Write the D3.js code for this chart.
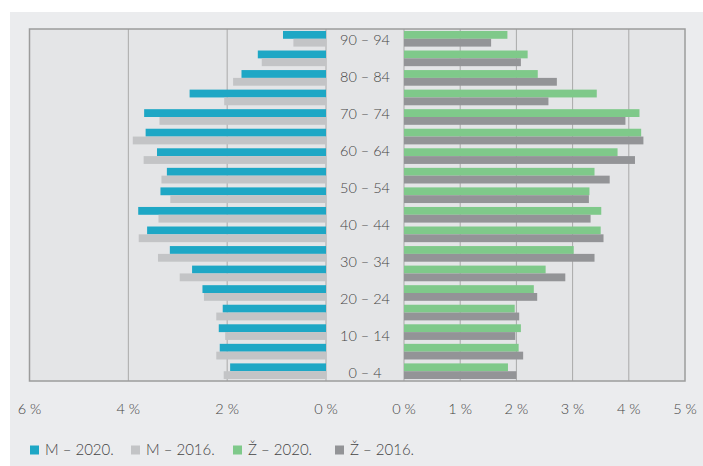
<!DOCTYPE html>
<html>
<head>
<meta charset="utf-8">
<script src="https://cdn.jsdelivr.net/npm/d3@7"></script>
<style>
  html, body { margin: 0; padding: 0; background: #fff; }
  svg text { font-family: Lato, "Open Sans", sans-serif; font-weight: 300; fill: #444; }
</style>
</head>
<body>
<div id="chart"></div>
<script>
// age groups, bottom (youngest) to top
var groups = ["g0", "g1", "g2", "g3", "g4", "g5", "g6", "g7", "g8",
              "g9", "g10", "g11", "g12", "g13", "g14", "g15", "g16", "g17"];
var ageLabels = ["0 – 4", "10 – 14", "20 – 24", "30 – 34", "40 – 44",
                 "50 – 54", "60 – 64", "70 – 74", "80 – 84", "90 – 94"];

// shares of population, %
var men2020 = [1.94, 2.15, 2.17, 2.09, 2.50, 2.71, 3.16, 3.62, 3.80,
               3.35, 3.22, 3.42, 3.65, 3.68, 2.76, 1.71, 1.38, 0.87];
var men2016 = [2.07, 2.22, 2.04, 2.22, 2.47, 2.96, 3.40, 3.79, 3.39,
               3.15, 3.33, 3.69, 3.91, 3.37, 2.06, 1.88, 1.30, 0.66];
var women2020 = [1.85, 2.04, 2.08, 1.97, 2.31, 2.52, 3.02, 3.50, 3.51,
                 3.30, 3.39, 3.80, 4.22, 4.19, 3.43, 2.38, 2.20, 1.84];
var women2016 = [2.00, 2.12, 1.98, 2.05, 2.37, 2.87, 3.39, 3.55, 3.32,
                 3.29, 3.66, 4.11, 4.26, 3.94, 2.57, 2.72, 2.08, 1.55];

var leftTicks = [6, 4, 2, 0];
var rightTicks = [0, 1, 2, 3, 4, 5];

var legendNames = ["M – 2020.", "M – 2016.", "Ž – 2020.", "Ž – 2016."];
var colors = ["#1ea7c5", "#c3c4c6", "#7fc98a", "#939497"];

var width = 703, height = 466;
var top_ = 29, bottom = 381;
var leftX0 = 29.5, leftX1 = 326;   // 6% .. 0%
var rightX0 = 404, rightX1 = 685;  // 0% .. 5%

var svg = d3.select("#chart").append("svg")
    .attr("width", width)
    .attr("height", height);

// card
svg.append("rect")
    .attr("x", 10).attr("y", 12)
    .attr("width", width - 10).attr("height", height - 12)
    .attr("fill", "#ebecee");

// plot background
svg.append("rect")
    .attr("x", leftX0).attr("y", top_)
    .attr("width", rightX1 - leftX0).attr("height", bottom - top_)
    .attr("fill", "#e4e5e7");

var xLeft = d3.scaleLinear().domain([6, 0]).range([leftX0, leftX1]);
var xRight = d3.scaleLinear().domain([0, 5]).range([rightX0, rightX1]);

var y = d3.scaleBand()
    .domain(groups)
    .range([bottom, top_])
    .paddingInner(0.2)
    .paddingOuter(0.1);
var sub = d3.scaleBand().domain([0, 1]).range([0, y.bandwidth()]);

// gridlines
svg.append("g").selectAll("line")
    .data(leftTicks.slice(1))
    .join("line")
    .attr("x1", function (d) { return xLeft(d); })
    .attr("x2", function (d) { return xLeft(d); })
    .attr("y1", top_).attr("y2", bottom)
    .attr("stroke", "#a9a9a9").attr("stroke-width", 1);

svg.append("g").selectAll("line")
    .data(rightTicks.slice(0, -1))
    .join("line")
    .attr("x1", function (d) { return xRight(d); })
    .attr("x2", function (d) { return xRight(d); })
    .attr("y1", top_).attr("y2", bottom)
    .attr("stroke", "#a9a9a9").attr("stroke-width", 1);

// bars
function drawLeft(values, k, color) {
    svg.append("g").selectAll("rect")
        .data(values)
        .join("rect")
        .attr("x", function (d) { return xLeft(d); })
        .attr("width", function (d) { return xLeft(0) - xLeft(d); })
        .attr("y", function (d, i) { return y(groups[i]) + sub(k); })
        .attr("height", sub.bandwidth())
        .attr("fill", color);
}
function drawRight(values, k, color) {
    svg.append("g").selectAll("rect")
        .data(values)
        .join("rect")
        .attr("x", xRight(0))
        .attr("width", function (d) { return xRight(d) - xRight(0); })
        .attr("y", function (d, i) { return y(groups[i]) + sub(k); })
        .attr("height", sub.bandwidth())
        .attr("fill", color);
}
drawLeft(men2020, 0, colors[0]);
drawLeft(men2016, 1, colors[1]);
drawRight(women2020, 0, colors[2]);
drawRight(women2016, 1, colors[3]);

// frame
svg.append("rect")
    .attr("x", leftX0).attr("y", top_)
    .attr("width", rightX1 - leftX0).attr("height", bottom - top_)
    .attr("fill", "none")
    .attr("stroke", "#9c9c9c").attr("stroke-width", 1.5);

// age labels in the middle column
var yLab = d3.scalePoint().domain(ageLabels).range([bottom - 8.5, top_ + 11]);
svg.append("g").selectAll("text")
    .data(ageLabels)
    .join("text")
    .attr("x", (leftX1 + rightX0) / 2)
    .attr("y", function (d) { return yLab(d); })
    .attr("dy", "0.35em")
    .attr("text-anchor", "middle")
    .style("font-size", "14.5px")
    .text(function (d) { return d; });

// x tick labels
svg.append("g").selectAll("text")
    .data(leftTicks)
    .join("text")
    .attr("x", function (d) { return xLeft(d); })
    .attr("y", 409)
    .attr("dy", "0.35em")
    .attr("text-anchor", "middle")
    .style("font-size", "14.5px")
    .text(function (d) { return d + " %"; });

svg.append("g").selectAll("text")
    .data(rightTicks)
    .join("text")
    .attr("x", function (d) { return xRight(d); })
    .attr("y", 409)
    .attr("dy", "0.35em")
    .attr("text-anchor", "middle")
    .style("font-size", "14.5px")
    .text(function (d) { return d + " %"; });

// legend
var legendX = [30, 131, 233, 335];
var legend = svg.append("g").selectAll("g")
    .data(legendNames)
    .join("g")
    .attr("transform", function (d, i) { return "translate(" + legendX[i] + ",450)"; });
legend.append("rect")
    .attr("x", 0).attr("y", -4.5)
    .attr("width", 9).attr("height", 9)
    .attr("fill", function (d, i) { return colors[i]; });
legend.append("text")
    .attr("x", 15)
    .attr("dy", "0.35em")
    .style("font-size", "15px")
    .text(function (d) { return d; });
</script>
</body>
</html>
